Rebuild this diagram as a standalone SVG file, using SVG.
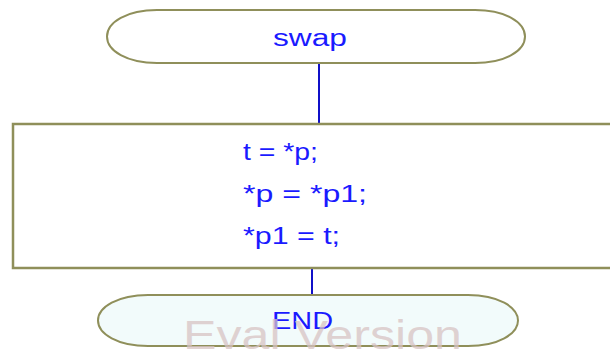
<svg xmlns="http://www.w3.org/2000/svg" width="610" height="351" viewBox="0 0 610 351">
<style>
.term{stroke:#8f8f5a;stroke-width:2}
.box{fill:#ffffff;stroke:#8f8f5a;stroke-width:2.5}
.conn{stroke:#1010c8;stroke-width:2;fill:none}
.t{font-family:"Liberation Sans",Arial,sans-serif;font-size:23px;fill:#1a1aff}
.wm{font-family:"Liberation Sans",Arial,sans-serif;font-size:40px;fill:#d8c4c4;fill-opacity:0.75}
</style>
<rect width="610" height="351" fill="#ffffff"/>
<g id="connectors">
<line class="conn" x1="319" y1="63" x2="319" y2="124"/>
<line class="conn" x1="312" y1="268" x2="312" y2="295"/>
</g>
<g id="start">
<path class="term" d="M157,10 H475 C505,10 525,22 525,36.5 C525,51 505,63 475,63 H157 C127,63 107,51 107,36.5 C107,22 127,10 157,10 Z" fill="#ffffff"/>
<text class="t" x="273" y="46" font-size="24" textLength="74" lengthAdjust="spacingAndGlyphs">swap</text>
</g>
<g id="process">
<rect class="box" x="13" y="124" width="620" height="144"/>
<text class="t" x="243" y="160" textLength="75" lengthAdjust="spacingAndGlyphs">t = *p;</text>
<text class="t" x="243" y="202" textLength="124" lengthAdjust="spacingAndGlyphs">*p = *p1;</text>
<text class="t" x="243" y="244" textLength="97" lengthAdjust="spacingAndGlyphs">*p1 = t;</text>
</g>
<g id="end">
<path class="term" d="M148,295 H468 C498,295 518,307 518,320.5 C518,334 498,346 468,346 H148 C118,346 98,334 98,320.5 C98,307 118,295 148,295 Z" fill="#f2fbfb"/>
<text class="t" x="272" y="329" font-size="22" textLength="61" lengthAdjust="spacingAndGlyphs">END</text>
</g>
<text class="wm" x="183" y="349" textLength="279" lengthAdjust="spacingAndGlyphs">Eval Version</text>
</svg>
